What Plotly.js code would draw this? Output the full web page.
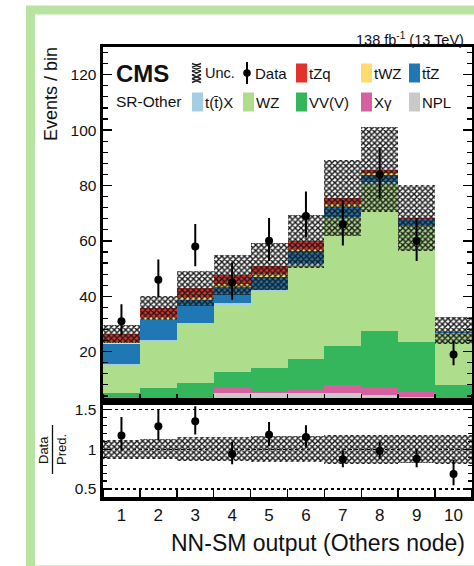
<!DOCTYPE html>
<html>
<head>
<meta charset="utf-8">
<script src="https://cdn.plot.ly/plotly-3.0.1.min.js"></script>
<style>
  html, body { margin: 0; padding: 0; background: #ffffff; }
  #plot { width: 474px; height: 566px; }
</style>
</head>
<body>
<div id="plot"></div>
<script>
// ---- Histogram content: NN-SM output, Others node, SR-Other ----
const bins = [1, 2, 3, 4, 5, 6, 7, 8, 9, 10];
const binLabels = ['1', '2', '3', '4', '5', '6', '7', '8', '9', '10'];

// Predicted yields per bin (stacking order: bottom -> top)
const npl    = [0.5, 0.5, 0.8, 5.0, 5.0, 5.0, 5.0, 4.4, 3.8, 0.5];
const xgamma = [0.3, 0.3, 0.3, 1.8, 0.3, 1.2, 2.8, 2.4, 1.8, 0.2];
const vvv    = [4.3, 6.2, 7.6, 6.0, 8.7, 11.2, 14.2, 20.5, 17.9, 7.3];
const wz     = [9.9, 16.6, 21.3, 24.2, 27.7, 33.9, 46.2, 53.6, 41.7, 18.7];
const ttx    = [0.4, 0.5, 0.5, 0.5, 0.5, 0.6, 0.5, 0.5, 0.3, 0.2];
const ttz    = [7.3, 7.3, 8.0, 5.9, 4.9, 4.3, 3.7, 2.4, 1.9, 0.3];
const twz    = [0.8, 1.0, 1.2, 1.0, 0.9, 0.8, 0.8, 0.6, 0.3, 0.1];
const tzq    = [2.9, 3.3, 3.2, 3.4, 2.8, 2.8, 2.3, 1.3, 0.5, 0.3];

// Total uncertainty on the prediction (absolute, per bin)
const predUnc = [3.2, 4.4, 6.4, 7.2, 8.4, 9.6, 13.8, 15.4, 12.0, 5.0];

// Observed events
const observed = [31, 46, 58, 45, 60, 69, 66, 84, 60, 19];

const procNames  = ['NPL', 'X\u03b3', 'VV(V)', 'WZ', 't(t\u0304)X', 'tt\u0304Z', 'tWZ', 'tZq'];
const procColors = ['#c9c9c9', '#d6609f', '#35b65c', '#aedd8c', '#a6cee3', '#1f78b4', '#ffdb70', '#e3312c'];
const procValues = [npl, xgamma, vvv, wz, ttx, ttz, twz, tzq];

// ---- Geometry of the plotting frame (pixels) ----
const L = 103, R = 472, T = 47, B = 497;
const W = R - L, H = B - T;
const SPLIT = 401.5;                       // boundary between main and ratio pad
const px = x => (x - L) / W;
const py = y => (B - y) / H;
const FONT = 'Liberation Sans, Arial, Helvetica, sans-serif';

const edges = [];
for (let i = 0; i <= bins.length; i++) edges.push(0.5 + i);

// ---- Build stacked histogram ----
const traces = [];
const running = bins.map(() => 0);
procValues.forEach((vals, k) => {
  traces.push({
    type: 'bar', x: bins, y: vals, base: running.slice(), width: 1,
    marker: { color: procColors[k], line: { width: 0 } },
    xaxis: 'x', yaxis: 'y', showlegend: false, hoverinfo: 'skip', name: procNames[k]
  });
  vals.forEach((v, i) => { running[i] += v; });
});
const total = running.slice();

const hatch = { shape: 'x', fgcolor: '#1a1a1a', bgcolor: 'rgba(0,0,0,0)', size: 4, solidity: 0.6 };

// Uncertainty band on the stack
traces.push({
  type: 'bar', x: bins, y: predUnc.map(u => 2 * u), base: total.map((t, i) => t - predUnc[i]), width: 1,
  marker: { color: 'rgba(0,0,0,0)', line: { width: 0 }, pattern: hatch },
  xaxis: 'x', yaxis: 'y', showlegend: false, hoverinfo: 'skip', name: 'Unc.'
});

// Poisson (approximate Garwood) intervals for the data
const errUp = observed.map(n => Math.sqrt(n + 0.25) + 0.5);
const errDn = observed.map(n => Math.sqrt(n + 0.25) - 0.5);

traces.push({
  type: 'scatter', mode: 'markers', x: bins, y: observed,
  marker: { color: '#000', size: 8 },
  error_y: { type: 'data', symmetric: false, array: errUp, arrayminus: errDn, color: '#000', thickness: 2, width: 0 },
  xaxis: 'x', yaxis: 'y', showlegend: false, hoverinfo: 'skip', name: 'Data'
});

// ---- Ratio pad ----
const relUnc = predUnc.map((u, i) => u / total[i]);
traces.push({
  type: 'bar', x: bins, y: relUnc.map(r => 2 * r), base: relUnc.map(r => 1 - r), width: 1,
  marker: { color: 'rgba(0,0,0,0)', line: { width: 0 }, pattern: hatch },
  xaxis: 'x2', yaxis: 'y2', showlegend: false, hoverinfo: 'skip'
});
traces.push({
  type: 'scatter', mode: 'markers', x: bins, y: observed.map((n, i) => n / total[i]),
  marker: { color: '#000', size: 8 },
  error_y: { type: 'data', symmetric: false,
             array: errUp.map((e, i) => e / total[i]), arrayminus: errDn.map((e, i) => e / total[i]),
             color: '#000', thickness: 2, width: 0 },
  xaxis: 'x2', yaxis: 'y2', showlegend: false, hoverinfo: 'skip'
});

// ---- Axes ----
const frame = { showline: true, linecolor: '#000', linewidth: 3.5, showgrid: false, zeroline: false };
const edgeTicks = { tickmode: 'array', tickvals: edges, ticks: 'inside', ticklen: 8, tickwidth: 1.5, tickcolor: '#000' };
const splitFrac = py(SPLIT);

const layout = {
  width: 474, height: 566,
  margin: { l: L, r: 474 - R, t: T, b: 566 - B, pad: 0 },
  paper_bgcolor: '#ffffff', plot_bgcolor: '#ffffff',
  font: { family: FONT, color: '#000' },
  barmode: 'overlay', bargap: 0, showlegend: false,
  xaxis: Object.assign({}, frame, {
    domain: [0, 1], anchor: 'y', range: [0.5, 10.5], showticklabels: false, ticks: '',
    mirror: true, minor: edgeTicks
  }),
  yaxis: Object.assign({}, frame, {
    domain: [splitFrac, 1], anchor: 'x', range: [2, 130],
    tickmode: 'array', tickvals: [20, 40, 60, 80, 100, 120],
    ticks: 'inside', ticklen: 9, tickwidth: 1.5, tickcolor: '#000', mirror: 'ticks',
    tickfont: { size: 15.5, family: FONT, color: '#111' },
    minor: { tickmode: 'linear', tick0: 0, dtick: 4, ticks: 'inside', ticklen: 5, tickwidth: 1.2, tickcolor: '#000' }
  }),
  xaxis2: Object.assign({}, frame, {
    domain: [0, 1], anchor: 'y2', range: [0.5, 10.5],
    tickmode: 'array', tickvals: bins, ticktext: binLabels, ticks: '',
    tickfont: { size: 17, family: FONT, color: '#111' }, mirror: true, minor: edgeTicks
  }),
  yaxis2: Object.assign({}, frame, {
    domain: [0, splitFrac], anchor: 'x2', range: [0.4, 1.6],
    tickmode: 'array', tickvals: [0.5, 1, 1.5], ticktext: ['0.5', '1', '1.5'],
    ticks: 'inside', ticklen: 8, tickwidth: 1.5, tickcolor: '#000', mirror: 'ticks',
    tickfont: { size: 15.5, family: FONT, color: '#111' },
    showgrid: true, gridcolor: '#000', gridwidth: 1.4, griddash: 'dot',
    minor: { tickmode: 'linear', tick0: 0, dtick: 0.1, ticks: 'inside', ticklen: 4, tickwidth: 1.2, tickcolor: '#000' }
  }),
  shapes: [],
  annotations: []
};

// Light green border round the canvas
layout.shapes.push({
  type: 'rect', xref: 'paper', yref: 'paper',
  x0: px(30.5), x1: px(482), y0: py(10), y1: py(570),
  line: { color: '#b9e3a0', width: 9 }, fillcolor: 'rgba(0,0,0,0)', layer: 'below'
});

// ---- Text ----
function note(text, x, y, size, opts) {
  layout.annotations.push(Object.assign({
    text: text, xref: 'paper', yref: 'paper', x: px(x), y: py(y),
    xanchor: 'left', yanchor: 'middle', showarrow: false,
    font: { family: FONT, size: size, color: '#111' }
  }, opts || {}));
}
note('138 fb<sup>-1</sup> (13 TeV)', 466, 39, 14.5, { xanchor: 'right' });
note('<b>CMS</b>', 114, 73, 24);
note('SR-Other', 114, 101, 15.5);
note('Events / bin', 51, 94, 18, { xanchor: 'center', textangle: -90 });
note('NN-SM output (Others node)', 467, 543, 23, { xanchor: 'right' });
note('Data', 43, 450, 13, { xanchor: 'center', textangle: -90 });
note('Pred.', 61, 450, 13, { xanchor: 'center', textangle: -90 });
layout.shapes.push({
  type: 'line', xref: 'paper', yref: 'paper',
  x0: px(52.5), x1: px(52.5), y0: py(425), y1: py(474), line: { color: '#111', width: 1.3 }
});

// ---- Legend (two rows of five entries) ----
const colX = [192, 243, 296, 361, 409];
const rowY = [73, 102];
const keyW = 11, keyH = 19;

function colourKey(x, y, colour) {
  layout.shapes.push({
    type: 'rect', xref: 'paper', yref: 'paper',
    x0: px(x), x1: px(x + keyW), y0: py(y + keyH / 2), y1: py(y - keyH / 2),
    fillcolor: colour, line: { width: 0 }
  });
}
// Unc. key: crossed hatch
(function () {
  const x = colX[0], y0 = rowY[0] - keyH / 2;
  let path = '';
  for (let k = 0; k < 5; k++) {
    const a = y0 + k * 3.8, b = a + 3.8;
    path += 'M' + px(x) + ',' + py(a) + 'L' + px(x + keyW - 2) + ',' + py(b) +
            'M' + px(x + keyW - 2) + ',' + py(a) + 'L' + px(x) + ',' + py(b);
  }
  layout.shapes.push({ type: 'path', xref: 'paper', yref: 'paper', path: path, line: { color: '#222', width: 1.5 } });
  note('Unc.', x + keyW, rowY[0], 14.5);
})();
// Data key: marker with error bar
(function () {
  const x = colX[1] + 4, y = rowY[0];
  layout.shapes.push({ type: 'line', xref: 'paper', yref: 'paper',
    x0: px(x), x1: px(x), y0: py(y - 11), y1: py(y + 11), line: { color: '#000', width: 2 } });
  layout.shapes.push({ type: 'circle', xref: 'paper', yref: 'paper',
    x0: px(x - 3.8), x1: px(x + 3.8), y0: py(y - 3.8), y1: py(y + 3.8), fillcolor: '#000', line: { width: 0 } });
  note('Data', colX[1] + 10, y, 15);
})();
// Process keys: row 1 holds tZq, tWZ, ttZ; row 2 holds t(t)X, WZ, VV(V), Xgamma, NPL
const legendRows = [
  [null, null, 'tZq', 'tWZ', 'tt\u0304Z'],
  ['t(t\u0304)X', 'WZ', 'VV(V)', 'X\u03b3', 'NPL']
];
legendRows.forEach((row, r) => {
  row.forEach((name, c) => {
    if (!name) return;
    const k = procNames.indexOf(name);
    colourKey(colX[c], rowY[r], procColors[k]);
    note(name, colX[c] + keyW, rowY[r], 15);
  });
});

Plotly.newPlot('plot', traces, layout, { staticPlot: true, displayModeBar: false });
</script>
</body>
</html>
